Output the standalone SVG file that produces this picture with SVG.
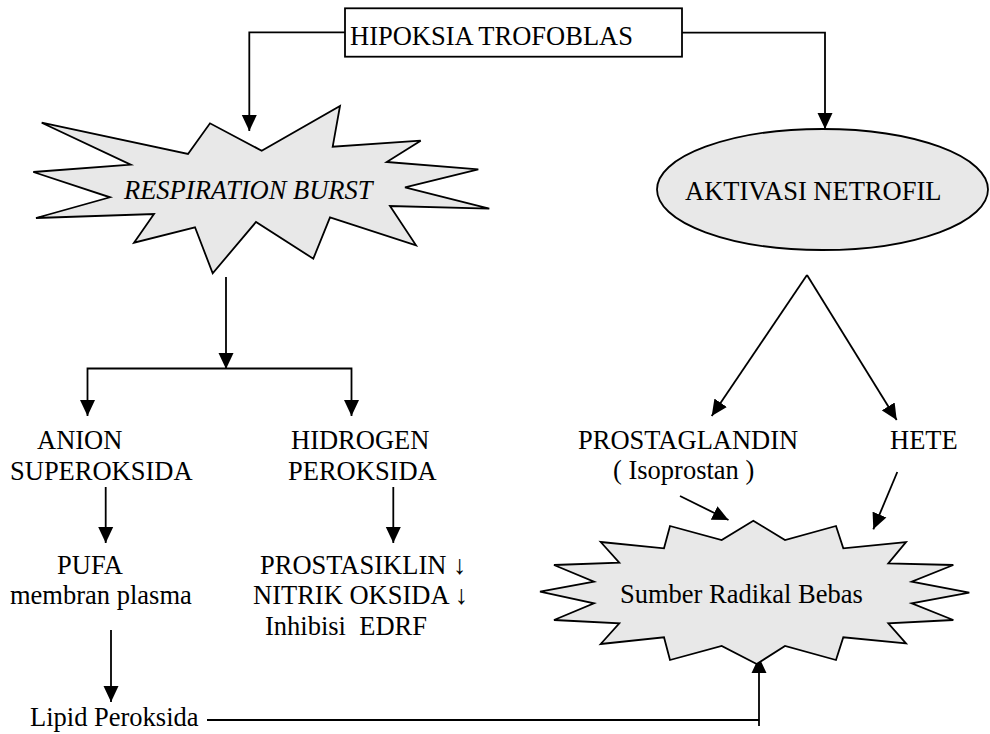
<svg xmlns="http://www.w3.org/2000/svg" width="990" height="734" viewBox="0 0 990 734">
<style>
text{font-family:"Liberation Serif","Times New Roman",serif;font-size:26.5px;fill:#000;white-space:pre}
.it{font-style:italic}
.shape{fill:#e8e8e8;stroke:#000;stroke-width:1.8;stroke-linejoin:miter}
.box{fill:#fff;stroke:#000;stroke-width:1.8}
.c{fill:none;stroke:#000;stroke-width:1.8}
.a{marker-end:url(#ah)}
</style>
<defs>
<marker id="ah" markerUnits="userSpaceOnUse" markerWidth="16" markerHeight="16" refX="16" refY="7.5" orient="auto" viewBox="0 0 16 15">
<path d="M0,0 L16,7.5 L0,15 z" fill="#000"/>
</marker>
</defs>
<rect width="990" height="734" fill="#fff"/>
<g id="connectors">
<path class="c a" d="M345,32.3 H249.3 V131"/>
<path class="c a" d="M682,32.7 H825 V129"/>
<path class="c a" d="M226,277 V369"/>
<path class="c a" d="M226,368.5 H87.5 V416"/>
<path class="c a" d="M226,368.5 H351.5 V416"/>
<path class="c a" d="M105.7,487 V543"/>
<path class="c a" d="M393.3,487 V543"/>
<path class="c a" d="M111,630 V702"/>
<path class="c a" d="M807,275 L711.7,416"/>
<path class="c a" d="M807,275 L896.7,420"/>
<path class="c a" d="M680,496 L728.5,520"/>
<path class="c a" d="M897.3,472 L873.3,529.3"/>
<path class="c" d="M207,720 H759"/>
<path class="c a" d="M759,726 V657"/>
</g>
<g id="hipoksia">
<rect class="box" x="345" y="8.3" width="337" height="48.4"/>
<text x="350" y="45">HIPOKSIA TROFOBLAS</text>
</g>
<g id="respiration">
<polygon class="shape" points="41.7,122.7 188,154 210,123.3 261.7,150.7 340,106 332.7,146.7 420.7,140.7 386.7,162 478.3,169.3 405,187.3 489.3,208.7 390,206 416,245.3 330,217.3 313.3,258.7 256,222 212.7,273.3 195,227.3 134,242.7 154,214 36,218 110,197.3 33.3,172 130.7,164.7"/>
<text class="it" x="124" y="199">RESPIRATION BURST</text>
</g>
<g id="aktivasi">
<ellipse class="shape" cx="822.5" cy="189.5" rx="165.5" ry="60.5"/>
<text x="685" y="200">AKTIVASI NETROFIL</text>
</g>
<g id="anion">
<text x="37" y="449">ANION</text>
<text x="10" y="480">SUPEROKSIDA</text>
</g>
<g id="hidrogen">
<text x="291" y="449">HIDROGEN</text>
<text x="288" y="480">PEROKSIDA</text>
</g>
<g id="pufa">
<text x="57" y="574">PUFA</text>
<text x="10" y="604">membran plasma</text>
</g>
<g id="prostasiklin">
<text x="260" y="574">PROSTASIKLIN ↓</text>
<text x="253" y="604">NITRIK OKSIDA ↓</text>
<text x="265" y="635">Inhibisi  EDRF</text>
</g>
<g id="prostaglandin">
<text x="578" y="449">PROSTAGLANDIN</text>
<text x="613" y="479">( Isoprostan )</text>
</g>
<g id="hete">
<text x="890" y="449">HETE</text>
</g>
<g id="sumber">
<polygon class="shape" points="753.3,520.7 785,540 836,526 843.3,548.3 906,542 888.3,563.3 953.3,565 911.7,581.7 969.3,592.7 911.7,603.3 953.3,620 888.3,623.3 906,643.3 843.3,637.3 836,660 785,646 756.7,664 721.7,646 670,660 664,637.3 600.7,644 619.3,623.3 554,620 594,603.3 540,591.7 594,581.7 554,565 619.3,562.7 600.7,542 664,548.3 670,526 721.7,540"/>
<text x="620" y="603">Sumber Radikal Bebas</text>
</g>
<g id="lipid">
<text x="30" y="726">Lipid Peroksida</text>
</g>
</svg>
